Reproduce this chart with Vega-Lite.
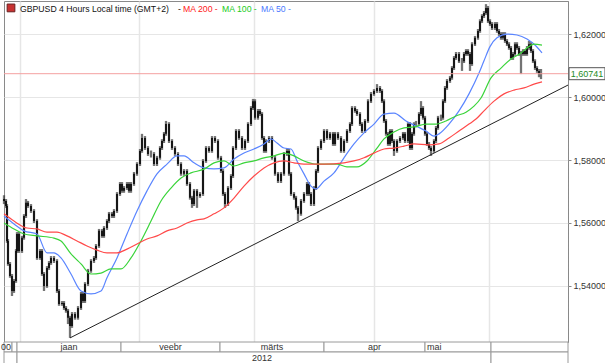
{
"$schema":"https://vega.github.io/schema/vega-lite/v6.json",
"padding":0,
"spacing":0,
"bounds":"flush",
"background":"#ffffff",
"config":{"font":"Liberation Sans","view":{"stroke":"#8a8a8a"}},
"datasets":{
"one":[{}],
"candles":[
{"t":0,"o":1.5676,"h":1.5688,"l":1.5660,"c":1.5670},{"t":2,"o":1.5670,"h":1.5676,"l":1.5648,"c":1.5654},{"t":3,"o":1.5654,"h":1.5660,"l":1.5537,"c":1.5543},{"t":4,"o":1.5543,"h":1.5549,"l":1.5464,"c":1.5470},{"t":6,"o":1.5470,"h":1.5476,"l":1.5426,"c":1.5432},{"t":8,"o":1.5432,"h":1.5438,"l":1.5368,"c":1.5384},{"t":10,"o":1.5384,"h":1.5422,"l":1.5378,"c":1.5416},{"t":12,"o":1.5416,"h":1.5517,"l":1.5410,"c":1.5511},{"t":13,"o":1.5511,"h":1.5571,"l":1.5505,"c":1.5565},{"t":15,"o":1.5565,"h":1.5571,"l":1.5505,"c":1.5511},{"t":18,"o":1.5511,"h":1.5559,"l":1.5505,"c":1.5553},{"t":20,"o":1.5553,"h":1.5628,"l":1.5547,"c":1.5622},{"t":22,"o":1.5622,"h":1.5676,"l":1.5616,"c":1.5664},{"t":24,"o":1.5664,"h":1.5670,"l":1.5648,"c":1.5654},{"t":27,"o":1.5654,"h":1.5660,"l":1.5632,"c":1.5638},{"t":30,"o":1.5638,"h":1.5644,"l":1.5600,"c":1.5606},{"t":33,"o":1.5606,"h":1.5612,"l":1.5483,"c":1.5489},{"t":36,"o":1.5489,"h":1.5517,"l":1.5483,"c":1.5511},{"t":38,"o":1.5511,"h":1.5517,"l":1.5432,"c":1.5438},{"t":40,"o":1.5438,"h":1.5444,"l":1.5384,"c":1.5400},{"t":43,"o":1.5400,"h":1.5463,"l":1.5394,"c":1.5457},{"t":45,"o":1.5457,"h":1.5479,"l":1.5451,"c":1.5473},{"t":47,"o":1.5473,"h":1.5495,"l":1.5467,"c":1.5489},{"t":50,"o":1.5489,"h":1.5495,"l":1.5473,"c":1.5479},{"t":53,"o":1.5479,"h":1.5485,"l":1.5378,"c":1.5384},{"t":55,"o":1.5384,"h":1.5390,"l":1.5337,"c":1.5343},{"t":58,"o":1.5343,"h":1.5352,"l":1.5337,"c":1.5346},{"t":60,"o":1.5346,"h":1.5352,"l":1.5324,"c":1.5330},{"t":62,"o":1.5330,"h":1.5336,"l":1.5315,"c":1.5321},{"t":64,"o":1.5321,"h":1.5327,"l":1.5279,"c":1.5299},{"t":66,"o":1.5299,"h":1.5305,"l":1.5235,"c":1.5273},{"t":68,"o":1.5273,"h":1.5317,"l":1.5267,"c":1.5311},{"t":71,"o":1.5311,"h":1.5317,"l":1.5293,"c":1.5299},{"t":74,"o":1.5299,"h":1.5336,"l":1.5293,"c":1.5330},{"t":77,"o":1.5330,"h":1.5381,"l":1.5324,"c":1.5375},{"t":79,"o":1.5375,"h":1.5381,"l":1.5346,"c":1.5352},{"t":81,"o":1.5352,"h":1.5412,"l":1.5346,"c":1.5406},{"t":84,"o":1.5406,"h":1.5454,"l":1.5400,"c":1.5448},{"t":87,"o":1.5448,"h":1.5485,"l":1.5442,"c":1.5479},{"t":90,"o":1.5479,"h":1.5495,"l":1.5473,"c":1.5489},{"t":92,"o":1.5489,"h":1.5533,"l":1.5483,"c":1.5527},{"t":95,"o":1.5527,"h":1.5581,"l":1.5521,"c":1.5575},{"t":98,"o":1.5575,"h":1.5581,"l":1.5553,"c":1.5559},{"t":100,"o":1.5559,"h":1.5590,"l":1.5553,"c":1.5584},{"t":103,"o":1.5584,"h":1.5612,"l":1.5578,"c":1.5606},{"t":105,"o":1.5606,"h":1.5635,"l":1.5600,"c":1.5629},{"t":108,"o":1.5629,"h":1.5635,"l":1.5616,"c":1.5622},{"t":110,"o":1.5622,"h":1.5644,"l":1.5616,"c":1.5638},{"t":113,"o":1.5638,"h":1.5698,"l":1.5632,"c":1.5692},{"t":116,"o":1.5692,"h":1.5730,"l":1.5686,"c":1.5724},{"t":118,"o":1.5724,"h":1.5730,"l":1.5696,"c":1.5702},{"t":120,"o":1.5702,"h":1.5717,"l":1.5696,"c":1.5711},{"t":123,"o":1.5711,"h":1.5730,"l":1.5705,"c":1.5724},{"t":125,"o":1.5724,"h":1.5730,"l":1.5696,"c":1.5702},{"t":127,"o":1.5702,"h":1.5730,"l":1.5696,"c":1.5724},{"t":130,"o":1.5724,"h":1.5762,"l":1.5718,"c":1.5756},{"t":133,"o":1.5756,"h":1.5793,"l":1.5750,"c":1.5787},{"t":136,"o":1.5787,"h":1.5835,"l":1.5781,"c":1.5829},{"t":138,"o":1.5829,"h":1.5883,"l":1.5823,"c":1.5870},{"t":141,"o":1.5870,"h":1.5876,"l":1.5832,"c":1.5838},{"t":144,"o":1.5838,"h":1.5844,"l":1.5813,"c":1.5819},{"t":147,"o":1.5819,"h":1.5830,"l":1.5808,"c":1.5819},{"t":150,"o":1.5819,"h":1.5825,"l":1.5781,"c":1.5787},{"t":153,"o":1.5787,"h":1.5813,"l":1.5781,"c":1.5807},{"t":156,"o":1.5807,"h":1.5844,"l":1.5801,"c":1.5838},{"t":158,"o":1.5838,"h":1.5866,"l":1.5832,"c":1.5860},{"t":160,"o":1.5860,"h":1.5889,"l":1.5854,"c":1.5883},{"t":162,"o":1.5883,"h":1.5924,"l":1.5877,"c":1.5914},{"t":165,"o":1.5914,"h":1.5920,"l":1.5854,"c":1.5860},{"t":168,"o":1.5860,"h":1.5866,"l":1.5832,"c":1.5838},{"t":171,"o":1.5838,"h":1.5844,"l":1.5813,"c":1.5819},{"t":174,"o":1.5819,"h":1.5825,"l":1.5781,"c":1.5787},{"t":177,"o":1.5787,"h":1.5793,"l":1.5750,"c":1.5756},{"t":180,"o":1.5756,"h":1.5771,"l":1.5750,"c":1.5765},{"t":183,"o":1.5765,"h":1.5771,"l":1.5718,"c":1.5724},{"t":186,"o":1.5724,"h":1.5730,"l":1.5674,"c":1.5680},{"t":188,"o":1.5680,"h":1.5686,"l":1.5648,"c":1.5660},{"t":190,"o":1.5660,"h":1.5708,"l":1.5654,"c":1.5702},{"t":193,"o":1.5702,"h":1.5708,"l":1.5648,"c":1.5686},{"t":196,"o":1.5686,"h":1.5698,"l":1.5680,"c":1.5692},{"t":199,"o":1.5692,"h":1.5803,"l":1.5686,"c":1.5797},{"t":202,"o":1.5797,"h":1.5844,"l":1.5791,"c":1.5838},{"t":205,"o":1.5838,"h":1.5844,"l":1.5823,"c":1.5829},{"t":208,"o":1.5829,"h":1.5876,"l":1.5823,"c":1.5870},{"t":211,"o":1.5870,"h":1.5876,"l":1.5854,"c":1.5860},{"t":214,"o":1.5860,"h":1.5866,"l":1.5801,"c":1.5807},{"t":217,"o":1.5807,"h":1.5813,"l":1.5759,"c":1.5765},{"t":219,"o":1.5765,"h":1.5771,"l":1.5686,"c":1.5692},{"t":221,"o":1.5692,"h":1.5698,"l":1.5648,"c":1.5660},{"t":224,"o":1.5660,"h":1.5717,"l":1.5654,"c":1.5711},{"t":227,"o":1.5711,"h":1.5755,"l":1.5705,"c":1.5749},{"t":229,"o":1.5749,"h":1.5844,"l":1.5743,"c":1.5838},{"t":232,"o":1.5838,"h":1.5898,"l":1.5832,"c":1.5892},{"t":235,"o":1.5892,"h":1.5898,"l":1.5864,"c":1.5870},{"t":238,"o":1.5870,"h":1.5876,"l":1.5832,"c":1.5838},{"t":241,"o":1.5838,"h":1.5866,"l":1.5832,"c":1.5860},{"t":244,"o":1.5860,"h":1.5920,"l":1.5854,"c":1.5914},{"t":247,"o":1.5914,"h":1.5971,"l":1.5908,"c":1.5965},{"t":249,"o":1.5965,"h":1.5994,"l":1.5959,"c":1.5987},{"t":251,"o":1.5987,"h":1.5993,"l":1.5928,"c":1.5934},{"t":254,"o":1.5934,"h":1.5962,"l":1.5928,"c":1.5956},{"t":256,"o":1.5956,"h":1.5962,"l":1.5940,"c":1.5946},{"t":258,"o":1.5946,"h":1.5952,"l":1.5864,"c":1.5870},{"t":260,"o":1.5870,"h":1.5876,"l":1.5823,"c":1.5829},{"t":262,"o":1.5829,"h":1.5866,"l":1.5823,"c":1.5860},{"t":265,"o":1.5860,"h":1.5876,"l":1.5854,"c":1.5870},{"t":268,"o":1.5870,"h":1.5876,"l":1.5801,"c":1.5807},{"t":271,"o":1.5807,"h":1.5813,"l":1.5750,"c":1.5756},{"t":274,"o":1.5756,"h":1.5762,"l":1.5727,"c":1.5733},{"t":277,"o":1.5733,"h":1.5762,"l":1.5727,"c":1.5756},{"t":280,"o":1.5756,"h":1.5825,"l":1.5750,"c":1.5819},{"t":283,"o":1.5819,"h":1.5838,"l":1.5813,"c":1.5829},{"t":285,"o":1.5829,"h":1.5835,"l":1.5750,"c":1.5756},{"t":287,"o":1.5756,"h":1.5762,"l":1.5686,"c":1.5692},{"t":290,"o":1.5692,"h":1.5698,"l":1.5674,"c":1.5680},{"t":292,"o":1.5680,"h":1.5686,"l":1.5642,"c":1.5648},{"t":294,"o":1.5648,"h":1.5654,"l":1.5606,"c":1.5629},{"t":297,"o":1.5629,"h":1.5676,"l":1.5623,"c":1.5670},{"t":300,"o":1.5670,"h":1.5698,"l":1.5664,"c":1.5692},{"t":303,"o":1.5692,"h":1.5730,"l":1.5686,"c":1.5724},{"t":305,"o":1.5724,"h":1.5730,"l":1.5686,"c":1.5692},{"t":307,"o":1.5692,"h":1.5698,"l":1.5654,"c":1.5660},{"t":310,"o":1.5660,"h":1.5717,"l":1.5654,"c":1.5711},{"t":312,"o":1.5711,"h":1.5771,"l":1.5705,"c":1.5765},{"t":314,"o":1.5765,"h":1.5844,"l":1.5759,"c":1.5838},{"t":317,"o":1.5838,"h":1.5866,"l":1.5832,"c":1.5860},{"t":320,"o":1.5860,"h":1.5898,"l":1.5854,"c":1.5892},{"t":323,"o":1.5892,"h":1.5898,"l":1.5864,"c":1.5870},{"t":326,"o":1.5870,"h":1.5889,"l":1.5864,"c":1.5883},{"t":329,"o":1.5883,"h":1.5889,"l":1.5845,"c":1.5851},{"t":331,"o":1.5851,"h":1.5889,"l":1.5845,"c":1.5883},{"t":334,"o":1.5883,"h":1.5889,"l":1.5864,"c":1.5870},{"t":337,"o":1.5870,"h":1.5876,"l":1.5823,"c":1.5829},{"t":340,"o":1.5829,"h":1.5866,"l":1.5823,"c":1.5860},{"t":343,"o":1.5860,"h":1.5898,"l":1.5854,"c":1.5892},{"t":346,"o":1.5892,"h":1.5920,"l":1.5886,"c":1.5914},{"t":348,"o":1.5914,"h":1.5971,"l":1.5908,"c":1.5965},{"t":351,"o":1.5965,"h":1.5971,"l":1.5950,"c":1.5956},{"t":353,"o":1.5956,"h":1.5962,"l":1.5940,"c":1.5946},{"t":356,"o":1.5946,"h":1.5952,"l":1.5908,"c":1.5914},{"t":358,"o":1.5914,"h":1.5920,"l":1.5886,"c":1.5892},{"t":361,"o":1.5892,"h":1.5930,"l":1.5886,"c":1.5924},{"t":364,"o":1.5924,"h":1.5993,"l":1.5918,"c":1.5987},{"t":367,"o":1.5987,"h":1.6016,"l":1.5981,"c":1.6010},{"t":370,"o":1.6010,"h":1.6025,"l":1.6004,"c":1.6019},{"t":373,"o":1.6019,"h":1.6041,"l":1.6013,"c":1.6029},{"t":376,"o":1.6029,"h":1.6035,"l":1.6013,"c":1.6019},{"t":378,"o":1.6019,"h":1.6025,"l":1.5981,"c":1.5987},{"t":380,"o":1.5987,"h":1.5993,"l":1.5918,"c":1.5924},{"t":382,"o":1.5924,"h":1.5930,"l":1.5877,"c":1.5883},{"t":384,"o":1.5883,"h":1.5889,"l":1.5845,"c":1.5851},{"t":386,"o":1.5851,"h":1.5898,"l":1.5845,"c":1.5892},{"t":388,"o":1.5892,"h":1.5898,"l":1.5854,"c":1.5860},{"t":390,"o":1.5860,"h":1.5866,"l":1.5813,"c":1.5829},{"t":393,"o":1.5829,"h":1.5866,"l":1.5823,"c":1.5860},{"t":396,"o":1.5860,"h":1.5876,"l":1.5854,"c":1.5870},{"t":399,"o":1.5870,"h":1.5889,"l":1.5864,"c":1.5883},{"t":401,"o":1.5883,"h":1.5889,"l":1.5854,"c":1.5860},{"t":404,"o":1.5860,"h":1.5920,"l":1.5854,"c":1.5914},{"t":406,"o":1.5914,"h":1.5920,"l":1.5832,"c":1.5838},{"t":408,"o":1.5838,"h":1.5889,"l":1.5832,"c":1.5883},{"t":410,"o":1.5883,"h":1.5920,"l":1.5877,"c":1.5914},{"t":412,"o":1.5914,"h":1.5924,"l":1.5904,"c":1.5914},{"t":415,"o":1.5914,"h":1.5952,"l":1.5908,"c":1.5946},{"t":417,"o":1.5946,"h":1.5987,"l":1.5940,"c":1.5965},{"t":419,"o":1.5965,"h":1.5971,"l":1.5928,"c":1.5934},{"t":421,"o":1.5934,"h":1.5940,"l":1.5877,"c":1.5883},{"t":423,"o":1.5883,"h":1.5889,"l":1.5845,"c":1.5851},{"t":425,"o":1.5851,"h":1.5857,"l":1.5832,"c":1.5838},{"t":427,"o":1.5838,"h":1.5844,"l":1.5813,"c":1.5829},{"t":430,"o":1.5829,"h":1.5866,"l":1.5823,"c":1.5860},{"t":432,"o":1.5860,"h":1.5908,"l":1.5854,"c":1.5902},{"t":434,"o":1.5902,"h":1.5940,"l":1.5896,"c":1.5934},{"t":437,"o":1.5934,"h":1.5944,"l":1.5924,"c":1.5934},{"t":439,"o":1.5934,"h":1.5993,"l":1.5928,"c":1.5987},{"t":441,"o":1.5987,"h":1.6035,"l":1.5981,"c":1.6029},{"t":443,"o":1.6029,"h":1.6057,"l":1.6023,"c":1.6051},{"t":446,"o":1.6051,"h":1.6067,"l":1.6045,"c":1.6061},{"t":448,"o":1.6061,"h":1.6098,"l":1.6055,"c":1.6092},{"t":450,"o":1.6092,"h":1.6130,"l":1.6086,"c":1.6124},{"t":452,"o":1.6124,"h":1.6143,"l":1.6118,"c":1.6137},{"t":455,"o":1.6137,"h":1.6143,"l":1.6108,"c":1.6114},{"t":458,"o":1.6114,"h":1.6124,"l":1.6083,"c":1.6114},{"t":460,"o":1.6114,"h":1.6143,"l":1.6108,"c":1.6137},{"t":462,"o":1.6137,"h":1.6152,"l":1.6131,"c":1.6146},{"t":464,"o":1.6146,"h":1.6152,"l":1.6131,"c":1.6137},{"t":466,"o":1.6137,"h":1.6143,"l":1.6083,"c":1.6105},{"t":468,"o":1.6105,"h":1.6174,"l":1.6099,"c":1.6168},{"t":471,"o":1.6168,"h":1.6194,"l":1.6162,"c":1.6188},{"t":474,"o":1.6188,"h":1.6216,"l":1.6182,"c":1.6210},{"t":476,"o":1.6210,"h":1.6247,"l":1.6204,"c":1.6241},{"t":478,"o":1.6241,"h":1.6263,"l":1.6235,"c":1.6257},{"t":480,"o":1.6257,"h":1.6273,"l":1.6251,"c":1.6267},{"t":482,"o":1.6267,"h":1.6295,"l":1.6261,"c":1.6283},{"t":484,"o":1.6283,"h":1.6289,"l":1.6235,"c":1.6241},{"t":486,"o":1.6241,"h":1.6247,"l":1.6226,"c":1.6232},{"t":488,"o":1.6232,"h":1.6238,"l":1.6213,"c":1.6219},{"t":491,"o":1.6219,"h":1.6238,"l":1.6213,"c":1.6232},{"t":493,"o":1.6232,"h":1.6238,"l":1.6204,"c":1.6210},{"t":495,"o":1.6210,"h":1.6216,"l":1.6194,"c":1.6200},{"t":497,"o":1.6200,"h":1.6206,"l":1.6182,"c":1.6188},{"t":499,"o":1.6188,"h":1.6206,"l":1.6182,"c":1.6200},{"t":501,"o":1.6200,"h":1.6206,"l":1.6172,"c":1.6178},{"t":503,"o":1.6178,"h":1.6184,"l":1.6162,"c":1.6168},{"t":505,"o":1.6168,"h":1.6174,"l":1.6150,"c":1.6156},{"t":507,"o":1.6156,"h":1.6162,"l":1.6118,"c":1.6124},{"t":509,"o":1.6124,"h":1.6143,"l":1.6118,"c":1.6137},{"t":511,"o":1.6137,"h":1.6174,"l":1.6131,"c":1.6168},{"t":513,"o":1.6168,"h":1.6174,"l":1.6150,"c":1.6156},{"t":515,"o":1.6156,"h":1.6162,"l":1.6131,"c":1.6137},{"t":517,"o":1.6137,"h":1.6146,"l":1.6073,"c":1.6137},{"t":519,"o":1.6137,"h":1.6152,"l":1.6131,"c":1.6146},{"t":521,"o":1.6146,"h":1.6152,"l":1.6131,"c":1.6137},{"t":523,"o":1.6137,"h":1.6162,"l":1.6131,"c":1.6156},{"t":525,"o":1.6156,"h":1.6178,"l":1.6150,"c":1.6168},{"t":527,"o":1.6168,"h":1.6174,"l":1.6140,"c":1.6146},{"t":529,"o":1.6146,"h":1.6152,"l":1.6108,"c":1.6114},{"t":531,"o":1.6114,"h":1.6120,"l":1.6086,"c":1.6092},{"t":533,"o":1.6092,"h":1.6098,"l":1.6077,"c":1.6083},{"t":535,"o":1.6083,"h":1.6089,"l":1.6063,"c":1.6073},{"t":537,"o":1.6073,"h":1.6089,"l":1.6057,"c":1.6074}
],
"ma":[
{"ma":"MA 50","t":0,"v":1.5622},{"ma":"MA 50","t":10,"v":1.5597},{"ma":"MA 50","t":20,"v":1.5575},{"ma":"MA 50","t":33,"v":1.5565},{"ma":"MA 50","t":43,"v":1.5505},{"ma":"MA 50","t":50,"v":1.5505},{"ma":"MA 50","t":57,"v":1.5489},{"ma":"MA 50","t":67,"v":1.5438},{"ma":"MA 50","t":77,"v":1.5384},{"ma":"MA 50","t":87,"v":1.5375},{"ma":"MA 50","t":97,"v":1.5384},{"ma":"MA 50","t":103,"v":1.5426},{"ma":"MA 50","t":113,"v":1.5489},{"ma":"MA 50","t":123,"v":1.5565},{"ma":"MA 50","t":133,"v":1.5638},{"ma":"MA 50","t":143,"v":1.5702},{"ma":"MA 50","t":153,"v":1.5756},{"ma":"MA 50","t":163,"v":1.5787},{"ma":"MA 50","t":173,"v":1.5813},{"ma":"MA 50","t":180,"v":1.5813},{"ma":"MA 50","t":190,"v":1.5791},{"ma":"MA 50","t":200,"v":1.5775},{"ma":"MA 50","t":210,"v":1.5772},{"ma":"MA 50","t":220,"v":1.5775},{"ma":"MA 50","t":230,"v":1.5803},{"ma":"MA 50","t":240,"v":1.5822},{"ma":"MA 50","t":250,"v":1.5835},{"ma":"MA 50","t":260,"v":1.5851},{"ma":"MA 50","t":267,"v":1.5867},{"ma":"MA 50","t":273,"v":1.5854},{"ma":"MA 50","t":280,"v":1.5838},{"ma":"MA 50","t":287,"v":1.5835},{"ma":"MA 50","t":293,"v":1.5797},{"ma":"MA 50","t":300,"v":1.5756},{"ma":"MA 50","t":307,"v":1.5717},{"ma":"MA 50","t":312,"v":1.5708},{"ma":"MA 50","t":320,"v":1.5733},{"ma":"MA 50","t":330,"v":1.5759},{"ma":"MA 50","t":340,"v":1.5807},{"ma":"MA 50","t":350,"v":1.5851},{"ma":"MA 50","t":360,"v":1.5886},{"ma":"MA 50","t":370,"v":1.5914},{"ma":"MA 50","t":380,"v":1.5946},{"ma":"MA 50","t":390,"v":1.5949},{"ma":"MA 50","t":402,"v":1.5924},{"ma":"MA 50","t":412,"v":1.5908},{"ma":"MA 50","t":422,"v":1.5892},{"ma":"MA 50","t":430,"v":1.5876},{"ma":"MA 50","t":435,"v":1.5883},{"ma":"MA 50","t":445,"v":1.5914},{"ma":"MA 50","t":455,"v":1.5956},{"ma":"MA 50","t":465,"v":1.6010},{"ma":"MA 50","t":475,"v":1.6076},{"ma":"MA 50","t":480,"v":1.6115},{"ma":"MA 50","t":486,"v":1.6160},{"ma":"MA 50","t":493,"v":1.6188},{"ma":"MA 50","t":503,"v":1.6200},{"ma":"MA 50","t":513,"v":1.6197},{"ma":"MA 50","t":523,"v":1.6184},{"ma":"MA 50","t":532,"v":1.6162},{"ma":"MA 50","t":538,"v":1.6140},
{"ma":"MA 100","t":0,"v":1.5600},{"ma":"MA 100","t":10,"v":1.5581},{"ma":"MA 100","t":20,"v":1.5565},{"ma":"MA 100","t":33,"v":1.5559},{"ma":"MA 100","t":50,"v":1.5552},{"ma":"MA 100","t":57,"v":1.5543},{"ma":"MA 100","t":67,"v":1.5502},{"ma":"MA 100","t":77,"v":1.5470},{"ma":"MA 100","t":87,"v":1.5438},{"ma":"MA 100","t":97,"v":1.5441},{"ma":"MA 100","t":107,"v":1.5454},{"ma":"MA 100","t":117,"v":1.5454},{"ma":"MA 100","t":127,"v":1.5489},{"ma":"MA 100","t":137,"v":1.5543},{"ma":"MA 100","t":147,"v":1.5606},{"ma":"MA 100","t":157,"v":1.5670},{"ma":"MA 100","t":167,"v":1.5711},{"ma":"MA 100","t":177,"v":1.5743},{"ma":"MA 100","t":187,"v":1.5759},{"ma":"MA 100","t":200,"v":1.5771},{"ma":"MA 100","t":210,"v":1.5791},{"ma":"MA 100","t":220,"v":1.5797},{"ma":"MA 100","t":230,"v":1.5781},{"ma":"MA 100","t":240,"v":1.5791},{"ma":"MA 100","t":250,"v":1.5797},{"ma":"MA 100","t":260,"v":1.5807},{"ma":"MA 100","t":270,"v":1.5813},{"ma":"MA 100","t":280,"v":1.5822},{"ma":"MA 100","t":290,"v":1.5813},{"ma":"MA 100","t":300,"v":1.5797},{"ma":"MA 100","t":313,"v":1.5787},{"ma":"MA 100","t":333,"v":1.5787},{"ma":"MA 100","t":343,"v":1.5778},{"ma":"MA 100","t":353,"v":1.5778},{"ma":"MA 100","t":363,"v":1.5797},{"ma":"MA 100","t":373,"v":1.5838},{"ma":"MA 100","t":380,"v":1.5867},{"ma":"MA 100","t":390,"v":1.5889},{"ma":"MA 100","t":400,"v":1.5902},{"ma":"MA 100","t":410,"v":1.5905},{"ma":"MA 100","t":422,"v":1.5914},{"ma":"MA 100","t":432,"v":1.5914},{"ma":"MA 100","t":442,"v":1.5924},{"ma":"MA 100","t":452,"v":1.5940},{"ma":"MA 100","t":462,"v":1.5952},{"ma":"MA 100","t":470,"v":1.5971},{"ma":"MA 100","t":477,"v":1.5997},{"ma":"MA 100","t":487,"v":1.6061},{"ma":"MA 100","t":497,"v":1.6092},{"ma":"MA 100","t":507,"v":1.6121},{"ma":"MA 100","t":517,"v":1.6140},{"ma":"MA 100","t":523,"v":1.6156},{"ma":"MA 100","t":530,"v":1.6168},{"ma":"MA 100","t":538,"v":1.6165},
{"ma":"MA 200","t":0,"v":1.5629},{"ma":"MA 200","t":10,"v":1.5606},{"ma":"MA 200","t":23,"v":1.5584},{"ma":"MA 200","t":33,"v":1.5581},{"ma":"MA 200","t":43,"v":1.5571},{"ma":"MA 200","t":53,"v":1.5571},{"ma":"MA 200","t":63,"v":1.5559},{"ma":"MA 200","t":73,"v":1.5543},{"ma":"MA 200","t":83,"v":1.5527},{"ma":"MA 200","t":93,"v":1.5514},{"ma":"MA 200","t":103,"v":1.5505},{"ma":"MA 200","t":113,"v":1.5505},{"ma":"MA 200","t":123,"v":1.5517},{"ma":"MA 200","t":133,"v":1.5533},{"ma":"MA 200","t":143,"v":1.5549},{"ma":"MA 200","t":153,"v":1.5559},{"ma":"MA 200","t":163,"v":1.5575},{"ma":"MA 200","t":173,"v":1.5584},{"ma":"MA 200","t":183,"v":1.5600},{"ma":"MA 200","t":193,"v":1.5610},{"ma":"MA 200","t":200,"v":1.5613},{"ma":"MA 200","t":210,"v":1.5629},{"ma":"MA 200","t":220,"v":1.5648},{"ma":"MA 200","t":230,"v":1.5679},{"ma":"MA 200","t":240,"v":1.5717},{"ma":"MA 200","t":250,"v":1.5749},{"ma":"MA 200","t":260,"v":1.5775},{"ma":"MA 200","t":270,"v":1.5791},{"ma":"MA 200","t":280,"v":1.5797},{"ma":"MA 200","t":290,"v":1.5791},{"ma":"MA 200","t":300,"v":1.5787},{"ma":"MA 200","t":320,"v":1.5787},{"ma":"MA 200","t":340,"v":1.5791},{"ma":"MA 200","t":350,"v":1.5797},{"ma":"MA 200","t":360,"v":1.5807},{"ma":"MA 200","t":370,"v":1.5822},{"ma":"MA 200","t":380,"v":1.5835},{"ma":"MA 200","t":390,"v":1.5838},{"ma":"MA 200","t":400,"v":1.5844},{"ma":"MA 200","t":410,"v":1.5851},{"ma":"MA 200","t":425,"v":1.5848},{"ma":"MA 200","t":435,"v":1.5851},{"ma":"MA 200","t":445,"v":1.5870},{"ma":"MA 200","t":455,"v":1.5892},{"ma":"MA 200","t":465,"v":1.5914},{"ma":"MA 200","t":472,"v":1.5930},{"ma":"MA 200","t":480,"v":1.5956},{"ma":"MA 200","t":490,"v":1.5987},{"ma":"MA 200","t":500,"v":1.6010},{"ma":"MA 200","t":510,"v":1.6022},{"ma":"MA 200","t":520,"v":1.6029},{"ma":"MA 200","t":530,"v":1.6041},{"ma":"MA 200","t":538,"v":1.6048}
],
"trend":[{"t":66,"p":1.5235},{"t":564,"p":1.6038}],
"months":[{"label":"00","s":0,"e":8},{"label":"","s":8,"e":13},{"label":"jaan","s":13,"e":117},{"label":"veebr","s":117,"e":216},{"label":"märts","s":216,"e":320},{"label":"apr","s":320,"e":421},{"label":"mai","s":421,"e":487},{"label":"","s":487,"e":564}],
"years":[{"label":"","s":0,"e":13},{"label":"2012","s":13,"e":487},{"label":"","s":487,"e":564}]
},
"vconcat":[
{
"width":564,"height":341,
"layer":[
{"data":{"name":"candles"},"mark":{"type":"rule","color":"#8c8c8c","strokeWidth":3,"opacity":0.35},
 "encoding":{
  "x":{"field":"t","type":"quantitative","scale":{"domain":[0,564],"nice":false,"zero":false},"axis":{"values":[16,135,250,370,485],"grid":true,"gridColor":"#e6e6e6","gridWidth":1.5,"labels":false,"ticks":false,"domain":false,"title":null}},
  "y":{"field":"l","type":"quantitative","scale":{"domain":[1.5222,1.6305],"nice":false,"zero":false},"axis":{"orient":"right","values":[1.54,1.56,1.58,1.6,1.62],"labelExpr":"replace(format(datum.value,'.5f'),'.',',')","grid":true,"gridColor":"#e6e6e6","tickSize":3,"tickColor":"#888888","domainColor":"#888888","domainDash":[2,2],"labelFont":"Liberation Sans","labelFontSize":9,"labelColor":"#333333","labelPadding":2,"title":null}},
  "y2":{"field":"h"}}},
{"data":{"name":"candles"},"mark":{"type":"rule","color":"#111111","strokeWidth":1},
 "encoding":{
  "x":{"field":"t","type":"quantitative","scale":{"domain":[0,564],"nice":false,"zero":false},"axis":{"values":[16,135,250,370,485],"grid":true,"gridColor":"#e6e6e6","gridWidth":1.5,"labels":false,"ticks":false,"domain":false,"title":null}},
  "y":{"field":"l","type":"quantitative","scale":{"domain":[1.5222,1.6305],"nice":false,"zero":false},"axis":{"orient":"right","values":[1.54,1.56,1.58,1.6,1.62],"labelExpr":"replace(format(datum.value,'.5f'),'.',',')","grid":true,"gridColor":"#e6e6e6","tickSize":3,"tickColor":"#888888","domainColor":"#888888","domainDash":[2,2],"labelFont":"Liberation Sans","labelFontSize":9,"labelColor":"#333333","labelPadding":2,"title":null}},
  "y2":{"field":"h"}}},
{"data":{"name":"candles"},"mark":{"type":"rule","color":"#000000","strokeWidth":1.6},
 "encoding":{
  "x":{"field":"t","type":"quantitative","scale":{"domain":[0,564],"nice":false,"zero":false},"axis":{"values":[16,135,250,370,485],"grid":true,"gridColor":"#e6e6e6","gridWidth":1.5,"labels":false,"ticks":false,"domain":false,"title":null}},
  "y":{"field":"o","type":"quantitative","scale":{"domain":[1.5222,1.6305],"nice":false,"zero":false},"axis":{"orient":"right","values":[1.54,1.56,1.58,1.6,1.62],"labelExpr":"replace(format(datum.value,'.5f'),'.',',')","grid":true,"gridColor":"#e6e6e6","tickSize":3,"tickColor":"#888888","domainColor":"#888888","domainDash":[2,2],"labelFont":"Liberation Sans","labelFontSize":9,"labelColor":"#333333","labelPadding":2,"title":null}},
  "y2":{"field":"c"}}},
{"data":{"name":"ma"},"mark":{"type":"line","strokeWidth":1.2,"interpolate":"monotone"},
 "encoding":{
  "x":{"field":"t","type":"quantitative","scale":{"domain":[0,564],"nice":false,"zero":false},"axis":{"values":[16,135,250,370,485],"grid":true,"gridColor":"#e6e6e6","gridWidth":1.5,"labels":false,"ticks":false,"domain":false,"title":null}},
  "y":{"field":"v","type":"quantitative","scale":{"domain":[1.5222,1.6305],"nice":false,"zero":false},"axis":{"orient":"right","values":[1.54,1.56,1.58,1.6,1.62],"labelExpr":"replace(format(datum.value,'.5f'),'.',',')","grid":true,"gridColor":"#e6e6e6","tickSize":3,"tickColor":"#888888","domainColor":"#888888","domainDash":[2,2],"labelFont":"Liberation Sans","labelFontSize":9,"labelColor":"#333333","labelPadding":2,"title":null}},
  "color":{"field":"ma","type":"nominal","scale":{"domain":["MA 200","MA 100","MA 50"],"range":["#ff4a4a","#3ad43a","#5a85ff"]},"legend":null}}},
{"data":{"name":"trend"},"mark":{"type":"line","color":"#222222","strokeWidth":1},
 "encoding":{
  "x":{"field":"t","type":"quantitative","scale":{"domain":[0,564],"nice":false,"zero":false},"axis":{"values":[16,135,250,370,485],"grid":true,"gridColor":"#e6e6e6","gridWidth":1.5,"labels":false,"ticks":false,"domain":false,"title":null}},
  "y":{"field":"p","type":"quantitative","scale":{"domain":[1.5222,1.6305],"nice":false,"zero":false},"axis":{"orient":"right","values":[1.54,1.56,1.58,1.6,1.62],"labelExpr":"replace(format(datum.value,'.5f'),'.',',')","grid":true,"gridColor":"#e6e6e6","tickSize":3,"tickColor":"#888888","domainColor":"#888888","domainDash":[2,2],"labelFont":"Liberation Sans","labelFontSize":9,"labelColor":"#333333","labelPadding":2,"title":null}}}},
{"data":{"name":"one"},"mark":{"type":"rule","color":"#f4a0a0","strokeWidth":1},
 "encoding":{
  "y":{"datum":1.60741,"type":"quantitative","scale":{"domain":[1.5222,1.6305],"nice":false,"zero":false},"axis":{"orient":"right","values":[1.54,1.56,1.58,1.6,1.62],"labelExpr":"replace(format(datum.value,'.5f'),'.',',')","grid":true,"gridColor":"#e6e6e6","tickSize":3,"tickColor":"#888888","domainColor":"#888888","domainDash":[2,2],"labelFont":"Liberation Sans","labelFontSize":9,"labelColor":"#333333","labelPadding":2,"title":null}}}},
{"data":{"name":"one"},"mark":{"type":"rect","fill":"#ffffff","stroke":"#555555","strokeWidth":1,"xOffset":1,"x2Offset":37,"yOffset":-6,"y2Offset":6},
 "encoding":{
  "x":{"datum":564,"type":"quantitative","scale":{"domain":[0,564],"nice":false,"zero":false},"axis":{"values":[16,135,250,370,485],"grid":true,"gridColor":"#e6e6e6","gridWidth":1.5,"labels":false,"ticks":false,"domain":false,"title":null}},"x2":{"datum":564},
  "y":{"datum":1.60741,"type":"quantitative","scale":{"domain":[1.5222,1.6305],"nice":false,"zero":false},"axis":{"orient":"right","values":[1.54,1.56,1.58,1.6,1.62],"labelExpr":"replace(format(datum.value,'.5f'),'.',',')","grid":true,"gridColor":"#e6e6e6","tickSize":3,"tickColor":"#888888","domainColor":"#888888","domainDash":[2,2],"labelFont":"Liberation Sans","labelFontSize":9,"labelColor":"#333333","labelPadding":2,"title":null}},"y2":{"datum":1.60741}}},
{"data":{"name":"one"},"mark":{"type":"text","text":"1,60741","color":"#1e8c1e","fontSize":9,"font":"Liberation Sans","align":"center","baseline":"middle","dx":19},
 "encoding":{
  "x":{"datum":564,"type":"quantitative","scale":{"domain":[0,564],"nice":false,"zero":false},"axis":{"values":[16,135,250,370,485],"grid":true,"gridColor":"#e6e6e6","gridWidth":1.5,"labels":false,"ticks":false,"domain":false,"title":null}},
  "y":{"datum":1.60741,"type":"quantitative","scale":{"domain":[1.5222,1.6305],"nice":false,"zero":false},"axis":{"orient":"right","values":[1.54,1.56,1.58,1.6,1.62],"labelExpr":"replace(format(datum.value,'.5f'),'.',',')","grid":true,"gridColor":"#e6e6e6","tickSize":3,"tickColor":"#888888","domainColor":"#888888","domainDash":[2,2],"labelFont":"Liberation Sans","labelFontSize":9,"labelColor":"#333333","labelPadding":2,"title":null}}}},
{"data":{"name":"one"},"mark":{"type":"square","size":60,"fill":"#c83232","stroke":"#6a2020","strokeWidth":1,"opacity":1},
 "encoding":{
  "x":{"datum":7,"type":"quantitative","scale":{"domain":[0,564],"nice":false,"zero":false},"axis":{"values":[16,135,250,370,485],"grid":true,"gridColor":"#e6e6e6","gridWidth":1.5,"labels":false,"ticks":false,"domain":false,"title":null}},
  "y":{"datum":1.6283,"type":"quantitative","scale":{"domain":[1.5222,1.6305],"nice":false,"zero":false},"axis":{"orient":"right","values":[1.54,1.56,1.58,1.6,1.62],"labelExpr":"replace(format(datum.value,'.5f'),'.',',')","grid":true,"gridColor":"#e6e6e6","tickSize":3,"tickColor":"#888888","domainColor":"#888888","domainDash":[2,2],"labelFont":"Liberation Sans","labelFontSize":9,"labelColor":"#333333","labelPadding":2,"title":null}}}},
{"data":{"name":"one"},"mark":{"type":"text","text":"GBPUSD 4 Hours Local time (GMT+2)","color":"#111111","fontSize":8.7,"font":"Liberation Sans","align":"left","baseline":"middle"},
 "encoding":{
  "x":{"datum":16,"type":"quantitative","scale":{"domain":[0,564],"nice":false,"zero":false},"axis":{"values":[16,135,250,370,485],"grid":true,"gridColor":"#e6e6e6","gridWidth":1.5,"labels":false,"ticks":false,"domain":false,"title":null}},
  "y":{"datum":1.6279,"type":"quantitative","scale":{"domain":[1.5222,1.6305],"nice":false,"zero":false},"axis":{"orient":"right","values":[1.54,1.56,1.58,1.6,1.62],"labelExpr":"replace(format(datum.value,'.5f'),'.',',')","grid":true,"gridColor":"#e6e6e6","tickSize":3,"tickColor":"#888888","domainColor":"#888888","domainDash":[2,2],"labelFont":"Liberation Sans","labelFontSize":9,"labelColor":"#333333","labelPadding":2,"title":null}}}},
{"data":{"name":"one"},"mark":{"type":"text","text":"-","color":"#111111","fontSize":8.7,"font":"Liberation Sans","align":"left","baseline":"middle"},
 "encoding":{
  "x":{"datum":174,"type":"quantitative","scale":{"domain":[0,564],"nice":false,"zero":false},"axis":{"values":[16,135,250,370,485],"grid":true,"gridColor":"#e6e6e6","gridWidth":1.5,"labels":false,"ticks":false,"domain":false,"title":null}},
  "y":{"datum":1.6279,"type":"quantitative","scale":{"domain":[1.5222,1.6305],"nice":false,"zero":false},"axis":{"orient":"right","values":[1.54,1.56,1.58,1.6,1.62],"labelExpr":"replace(format(datum.value,'.5f'),'.',',')","grid":true,"gridColor":"#e6e6e6","tickSize":3,"tickColor":"#888888","domainColor":"#888888","domainDash":[2,2],"labelFont":"Liberation Sans","labelFontSize":9,"labelColor":"#333333","labelPadding":2,"title":null}}}},
{"data":{"name":"one"},"mark":{"type":"text","text":"MA 200 -","color":"#ff2020","fontSize":8.7,"font":"Liberation Sans","align":"left","baseline":"middle"},
 "encoding":{
  "x":{"datum":179,"type":"quantitative","scale":{"domain":[0,564],"nice":false,"zero":false},"axis":{"values":[16,135,250,370,485],"grid":true,"gridColor":"#e6e6e6","gridWidth":1.5,"labels":false,"ticks":false,"domain":false,"title":null}},
  "y":{"datum":1.6279,"type":"quantitative","scale":{"domain":[1.5222,1.6305],"nice":false,"zero":false},"axis":{"orient":"right","values":[1.54,1.56,1.58,1.6,1.62],"labelExpr":"replace(format(datum.value,'.5f'),'.',',')","grid":true,"gridColor":"#e6e6e6","tickSize":3,"tickColor":"#888888","domainColor":"#888888","domainDash":[2,2],"labelFont":"Liberation Sans","labelFontSize":9,"labelColor":"#333333","labelPadding":2,"title":null}}}},
{"data":{"name":"one"},"mark":{"type":"text","text":"MA 100 -","color":"#22cc22","fontSize":8.7,"font":"Liberation Sans","align":"left","baseline":"middle"},
 "encoding":{
  "x":{"datum":218,"type":"quantitative","scale":{"domain":[0,564],"nice":false,"zero":false},"axis":{"values":[16,135,250,370,485],"grid":true,"gridColor":"#e6e6e6","gridWidth":1.5,"labels":false,"ticks":false,"domain":false,"title":null}},
  "y":{"datum":1.6279,"type":"quantitative","scale":{"domain":[1.5222,1.6305],"nice":false,"zero":false},"axis":{"orient":"right","values":[1.54,1.56,1.58,1.6,1.62],"labelExpr":"replace(format(datum.value,'.5f'),'.',',')","grid":true,"gridColor":"#e6e6e6","tickSize":3,"tickColor":"#888888","domainColor":"#888888","domainDash":[2,2],"labelFont":"Liberation Sans","labelFontSize":9,"labelColor":"#333333","labelPadding":2,"title":null}}}},
{"data":{"name":"one"},"mark":{"type":"text","text":"MA 50 -","color":"#4a78ff","fontSize":8.7,"font":"Liberation Sans","align":"left","baseline":"middle"},
 "encoding":{
  "x":{"datum":257,"type":"quantitative","scale":{"domain":[0,564],"nice":false,"zero":false},"axis":{"values":[16,135,250,370,485],"grid":true,"gridColor":"#e6e6e6","gridWidth":1.5,"labels":false,"ticks":false,"domain":false,"title":null}},
  "y":{"datum":1.6279,"type":"quantitative","scale":{"domain":[1.5222,1.6305],"nice":false,"zero":false},"axis":{"orient":"right","values":[1.54,1.56,1.58,1.6,1.62],"labelExpr":"replace(format(datum.value,'.5f'),'.',',')","grid":true,"gridColor":"#e6e6e6","tickSize":3,"tickColor":"#888888","domainColor":"#888888","domainDash":[2,2],"labelFont":"Liberation Sans","labelFontSize":9,"labelColor":"#333333","labelPadding":2,"title":null}}}}
]
},
{
"width":564,"height":10,
"view":{"stroke":null},
"data":{"name":"months"},
"layer":[
{"mark":{"type":"rect","fill":"#ffffff","stroke":"#9a9a9a","strokeWidth":1},
 "encoding":{"x":{"field":"s","type":"quantitative","scale":{"domain":[0,564],"nice":false,"zero":false},"axis":null},"x2":{"field":"e"}}},
{"transform":[{"filter":"indexof(['jaan','veebr','märts','apr'], datum.label) >= 0"},{"calculate":"(datum.s+datum.e)/2","as":"mid"}],
 "mark":{"type":"text","fontSize":9,"font":"Liberation Sans","color":"#333333","baseline":"middle","align":"center"},
 "encoding":{"x":{"field":"mid","type":"quantitative","scale":{"domain":[0,564],"nice":false,"zero":false},"axis":null},"text":{"field":"label"}}},
{"transform":[{"filter":"datum.label == 'mai'"}],
 "mark":{"type":"text","fontSize":9,"font":"Liberation Sans","color":"#333333","baseline":"middle","align":"left","dx":2},
 "encoding":{"x":{"field":"s","type":"quantitative","scale":{"domain":[0,564],"nice":false,"zero":false},"axis":null},"text":{"field":"label"}}},
{"transform":[{"filter":"datum.label == '00'"}],
 "mark":{"type":"text","fontSize":9,"font":"Liberation Sans","color":"#333333","baseline":"middle","align":"right","dx":-1},
 "encoding":{"x":{"field":"e","type":"quantitative","scale":{"domain":[0,564],"nice":false,"zero":false},"axis":null},"text":{"field":"label"}}}
]
},
{
"width":564,"height":12,
"view":{"stroke":null},
"data":{"name":"years"},
"layer":[
{"mark":{"type":"rect","fill":"#ffffff","stroke":"#9a9a9a","strokeWidth":1},
 "encoding":{"x":{"field":"s","type":"quantitative","scale":{"domain":[0,564],"nice":false,"zero":false},"axis":null},"x2":{"field":"e"}}},
{"transform":[{"filter":"datum.label != ''"},{"calculate":"(datum.s+datum.e)/2","as":"mid"}],
 "mark":{"type":"text","fontSize":9,"font":"Liberation Sans","color":"#333333","baseline":"middle","align":"center","dx":8},
 "encoding":{"x":{"field":"mid","type":"quantitative","scale":{"domain":[0,564],"nice":false,"zero":false},"axis":null},"text":{"field":"label"}}}
]
}
]
}
